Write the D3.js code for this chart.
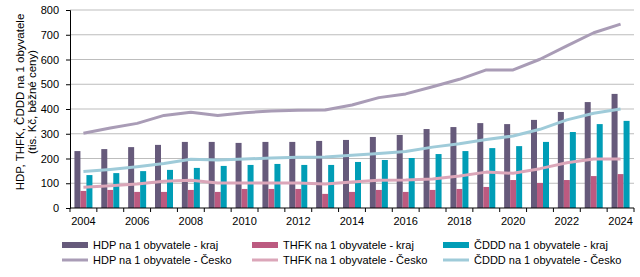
<!DOCTYPE html>
<html>
<head>
  <meta charset="UTF-8">
  <title>HDP, THFK, ČDDD</title>
  <script src="https://d3js.org/d3.v7.min.js"></script>
  <style>
    body { margin: 0; background: #fff; }
    svg { font-family: "Liberation Sans", Arial, sans-serif; }
    .grid line { stroke: #bdbdbd; }
    .axis text { font-size: 11px; fill: #000; }
  </style>
</head>
<body>
<div id="chart"></div>
<script>
  var years = d3.range(2004, 2025);
  var hdpKraj  = [230, 238, 246, 255, 267, 267, 263, 267, 267, 271, 275, 287, 295, 319, 327, 343, 339, 356, 388, 428, 461];
  var thfkKraj = [69, 73, 65, 65, 73, 65, 77, 77, 77, 57, 65, 73, 65, 73, 77, 85, 113, 101, 113, 129, 137];
  var cdddKraj = [133, 141, 149, 154, 162, 170, 174, 178, 174, 174, 186, 194, 202, 218, 230, 242, 250, 267, 307, 339, 352];
  var hdpCesko  = [302, 323, 342, 374, 387, 374, 385, 392, 395, 396, 416, 446, 461, 490, 520, 558, 558, 601, 655, 708, 743];
  var thfkCesko = [84, 90, 97, 108, 112, 101, 101, 101, 101, 97, 105, 112, 113, 117, 129, 145, 140, 159, 183, 198, 198];
  var cdddCesko = [147, 156, 167, 180, 197, 194, 198, 202, 205, 206, 213, 220, 228, 246, 260, 277, 291, 318, 356, 383, 400];
  var yTicks = [0, 100, 200, 300, 400, 500, 600, 700, 800];

  var barSeries = [
    { name: 'HDP na 1 obyvatele - kraj', values: hdpKraj, color: '#665a7b' },
    { name: 'THFK na 1 obyvatele - kraj', values: thfkKraj, color: '#bc5a80' },
    { name: 'ČDDD na 1 obyvatele - kraj', values: cdddKraj, color: '#009db6' }
  ];
  var lineSeries = [
    { name: 'HDP na 1 obyvatele - Česko', values: hdpCesko, color: '#a99cb6' },
    { name: 'THFK na 1 obyvatele - Česko', values: thfkCesko, color: '#dba6b9' },
    { name: 'ČDDD na 1 obyvatele - Česko', values: cdddCesko, color: '#9fcbd9' }
  ];

  var W = 640, H = 277;
  var margin = { top: 10, right: 6, bottom: 69, left: 70 };
  var width = W - margin.left - margin.right;
  var height = H - margin.top - margin.bottom;

  var svg = d3.select('#chart').append('svg')
      .attr('width', W)
      .attr('height', H);
  var g = svg.append('g')
      .attr('transform', 'translate(' + margin.left + ',' + margin.top + ')');

  var x = d3.scaleBand().domain(years).range([0, width]);
  var y = d3.scaleLinear().domain([0, 800]).range([height, 0]);
  var barW = 6;
  var xInner = d3.scaleBand()
    .domain(barSeries.map(d => d.name))
    .range([x.bandwidth() / 2 - barW * 1.5, x.bandwidth() / 2 + barW * 1.5]);

  // gridlines
  g.append('g').attr('class', 'grid')
    .selectAll('line').data(yTicks.filter(d => d > 0)).enter()
    .append('line')
      .attr('x1', 0).attr('x2', width)
      .attr('y1', d => y(d)).attr('y2', d => y(d));

  // bars
  barSeries.forEach(function(s) {
    g.append('g').selectAll('rect')
      .data(s.values).enter()
      .append('rect')
        .attr('x', (d, i) => x(years[i]) + xInner(s.name))
        .attr('y', d => y(d))
        .attr('width', xInner.bandwidth())
        .attr('height', d => height - y(d))
        .attr('fill', s.color);
  });

  // lines
  var line = d3.line()
    .x((d, i) => x(years[i]) + x.bandwidth() / 2)
    .y(d => y(d));
  lineSeries.forEach(function(s) {
    g.append('path')
      .datum(s.values)
      .attr('d', line)
      .attr('fill', 'none')
      .attr('stroke', s.color)
      .attr('stroke-width', 3)
      .attr('stroke-linejoin', 'round');
  });

  // y axis
  var yAxis = g.append('g').attr('class', 'axis')
    .call(d3.axisLeft(y).tickValues(yTicks).tickSize(4).tickPadding(7));
  yAxis.select('.domain').attr('stroke', '#000');
  yAxis.selectAll('.tick line').attr('stroke', '#000');

  // x axis: ticks at band boundaries, labels every other year
  var xAxisG = g.append('g').attr('class', 'axis')
    .attr('transform', 'translate(0,' + height + ')');
  xAxisG.append('line')
    .attr('x1', 0).attr('x2', width)
    .attr('stroke', '#000');
  xAxisG.selectAll('.tk').data(years.concat([2025])).enter()
    .append('line')
      .attr('x1', d => d === 2025 ? width : x(d))
      .attr('x2', d => d === 2025 ? width : x(d))
      .attr('y1', 0).attr('y2', 4)
      .attr('stroke', '#000');
  xAxisG.selectAll('text').data(years.filter(d => d % 2 === 0)).enter()
    .append('text')
      .attr('x', d => x(d) + x.bandwidth() / 2)
      .attr('y', 17)
      .attr('text-anchor', 'middle')
      .text(d => d);

  // y axis title
  var title = svg.append('text')
    .attr('transform', 'translate(24,102) rotate(-90)')
    .attr('text-anchor', 'middle')
    .style('font-size', '11.5px');
  title.append('tspan').attr('x', 0).attr('dy', 0).text('HDP, THFK, ČDDD na 1 obyvatele');
  title.append('tspan').attr('x', 0).attr('dy', 12).text('(tis. Kč, běžné ceny)');

  // legend
  var legendX = [62, 252, 443];
  var legend = svg.append('g').style('font-size', '11px');
  barSeries.forEach(function(s, i) {
    legend.append('rect')
      .attr('x', legendX[i]).attr('y', 242)
      .attr('width', 26).attr('height', 6)
      .attr('fill', s.color);
    legend.append('text')
      .attr('x', legendX[i] + 31).attr('y', 249)
      .text(s.name);
  });
  lineSeries.forEach(function(s, i) {
    legend.append('line')
      .attr('x1', legendX[i]).attr('x2', legendX[i] + 26)
      .attr('y1', 260).attr('y2', 260)
      .attr('stroke', s.color).attr('stroke-width', 3);
    legend.append('text')
      .attr('x', legendX[i] + 31).attr('y', 264)
      .text(s.name);
  });
</script>
</body>
</html>
